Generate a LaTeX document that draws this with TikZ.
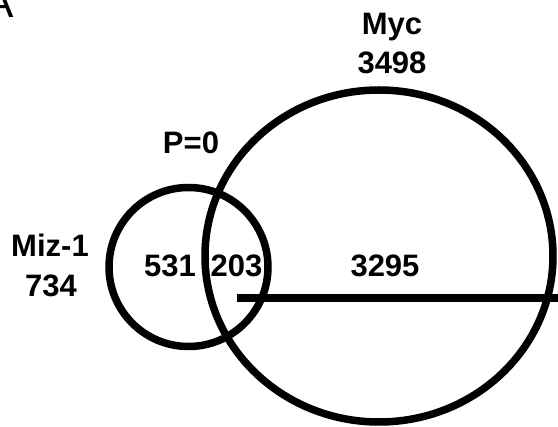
\documentclass[tikz,border=0pt]{standalone}
\usepackage{fontspec}
\setmainfont{Liberation Sans}
\begin{document}
\begin{tikzpicture}[x=1pt,y=-1pt,line width=7.5pt,
    lbl/.style={anchor=base,inner sep=0pt,font=\fontsize{31}{37}\selectfont\bfseries}]
  \useasboundingbox (0,0) rectangle (558,427);
  % the two sets
  \draw (379,256) ellipse[x radius=174,y radius=166];
  \draw (188.5,267) circle[radius=79.5];
  \coordinate (cut) at (237,298.5);
  \coordinate (rim) at (560,298.5);
  \draw[line width=8pt] (cut)--(rim);
  % labels
  \node[lbl] (myc) at (392,35) {Myc};
  \node[lbl] (myctotal) at (392,74) {3498};
  \node[lbl] (pval) at (191,154) {P=0};
  \node[lbl] (miz) at (50,257) {Miz-1};
  \node[lbl] (miztotal) at (51,296.5) {734};
  \node[lbl] (mizonly) at (170,277) {531};
  \node[lbl] (both) at (236.5,277) {203};
  \node[lbl] (myconly) at (385,277) {3295};
  \node[anchor=base east,inner sep=0pt,font=\fontsize{44}{50}\selectfont] (panel) at (17.5,18) {A};
\end{tikzpicture}
\end{document}
